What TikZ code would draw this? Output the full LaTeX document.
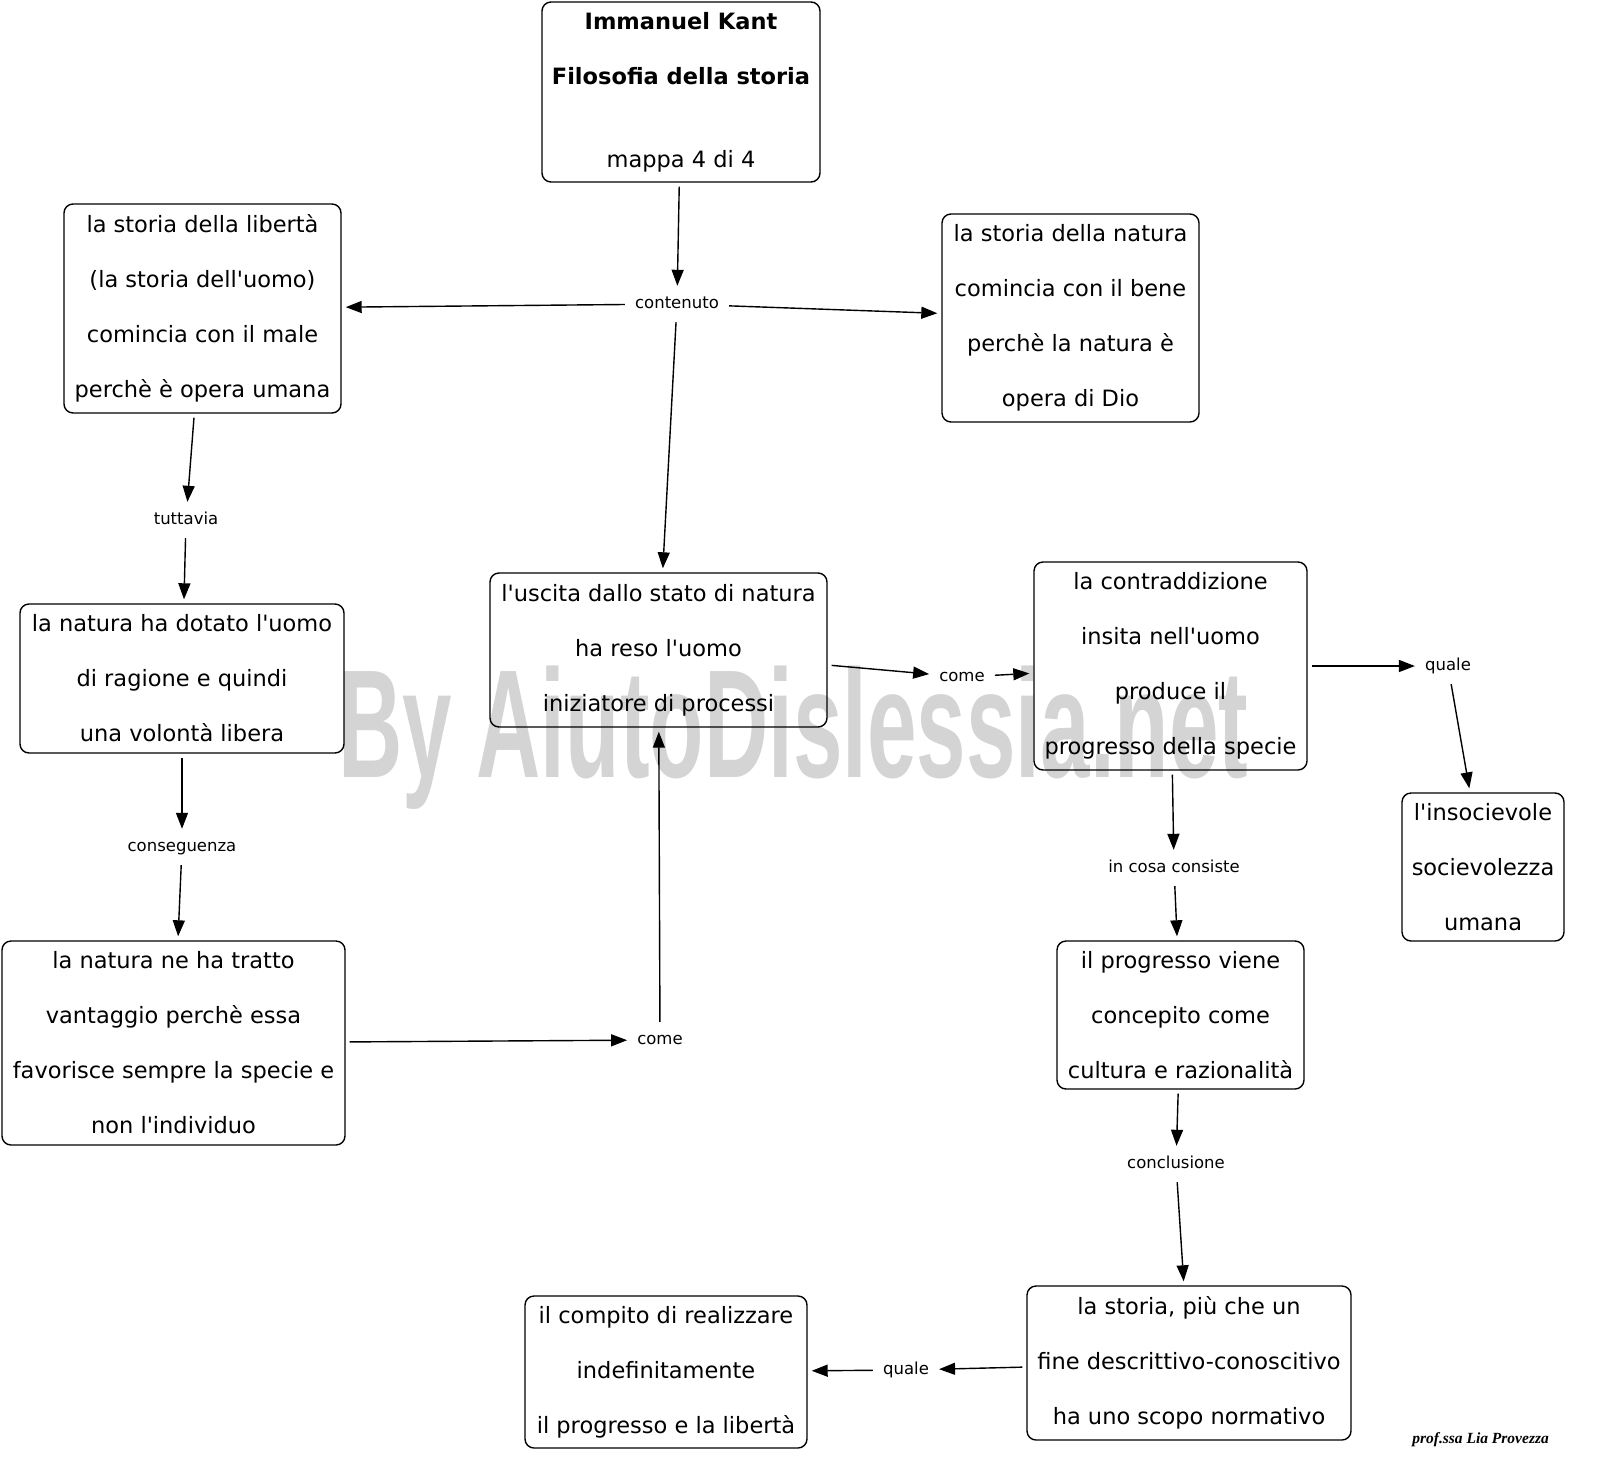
\documentclass[tikz,border=0pt]{standalone}
\usepackage{fontspec}
\setmainfont{DejaVu Sans}[Ligatures=TeXOff]
\newfontfamily\wmfont{Liberation Sans}
\newfontfamily\sigfont{Liberation Serif}
\usetikzlibrary{arrows.meta}
\definecolor{wmgray}{HTML}{D4D4D4}
\tikzset{
  box/.style={draw, line width=1.4pt, rounded corners=9pt, align=center,
    font=\fontsize{22.5}{55}\selectfont, inner sep=0pt},
  lbl/.style={font=\fontsize{16.5}{20}\selectfont, inner sep=6pt,
    text height=12pt, text depth=4pt},
  conn/.style={line width=1.4pt, -{Triangle[length=16pt,width=12pt]},
    shorten >=4pt, shorten <=4pt},
}
\begin{document}
\begin{tikzpicture}[x=1pt,y=-1pt]
\useasboundingbox (0,0) rectangle (1600,1483);
% watermark
\node[anchor=base west, text=wmgray, inner sep=0pt,
  font=\wmfont\bfseries\fontsize{154}{154}\selectfont] (wm) at (338,777)
  {\scalebox{0.578}[1]{By AiutoDislessia.net}};
% boxes
\node[box, minimum width=278pt, minimum height=180pt] (title) at (681,92)
  {{\bfseries Immanuel Kant}\\{\bfseries Filosofia della storia}\\[28pt]mappa 4 di 4};
\node[box, minimum width=277pt, minimum height=209pt] (lt) at (202.5,308.5)
  {la storia della libertà\\(la storia dell'uomo)\\comincia con il male\\perchè è opera umana};
\node[box, minimum width=257pt, minimum height=208pt] (rt) at (1070.5,318)
  {la storia della natura\\comincia con il bene\\perchè la natura è\\opera di Dio};
\node[box, minimum width=337pt, minimum height=154pt] (mid) at (658.5,650)
  {l'uscita dallo stato di natura\\ha reso l'uomo\\iniziatore di processi};
\node[box, minimum width=324pt, minimum height=149pt] (lm) at (182,678.5)
  {la natura ha dotato l'uomo\\di ragione e quindi\\una volontà libera};
\node[box, minimum width=343pt, minimum height=204pt] (lb) at (173.5,1043)
  {la natura ne ha tratto\\vantaggio perchè essa\\favorisce sempre la specie e\\non l'individuo};
\node[box, minimum width=273pt, minimum height=208pt] (rm) at (1170.5,666)
  {la contraddizione\\insita nell'uomo\\produce il\\progresso della specie};
\node[box, minimum width=162pt, minimum height=148pt] (fr) at (1483,867)
  {l'insocievole\\socievolezza\\umana};
\node[box, minimum width=247pt, minimum height=148pt] (rl) at (1180.5,1015)
  {il progresso viene\\concepito come\\cultura e razionalità};
\node[box, minimum width=324pt, minimum height=154pt] (br) at (1189,1363)
  {la storia, più che un\\fine descrittivo-conoscitivo\\ha uno scopo normativo};
\node[box, minimum width=282pt, minimum height=152pt] (bm) at (666,1372)
  {il compito di realizzare\\indefinitamente\\il progresso e la libertà};
% labels
\node[lbl] (contenuto) at (677,304) {contenuto};
\node[lbl] (tuttavia) at (186,520) {tuttavia};
\node[lbl] (conseguenza) at (182,847) {conseguenza};
\node[lbl] (come1) at (660,1040) {come};
\node[lbl] (come2) at (962,677) {come};
\node[lbl] (quale1) at (1448,666) {quale};
\node[lbl] (incosa) at (1174,868) {in cosa consiste};
\node[lbl] (conclusione) at (1176,1164) {conclusione};
\node[lbl] (quale2) at (906,1370) {quale};
% signature
\node[anchor=base east, inner sep=0pt,
  font=\sigfont\itshape\bfseries\fontsize{15.5}{15.5}\selectfont] (sig) at (1549,1443)
  {prof.ssa Lia Provezza};
% connectors
\draw[conn] (title) -- (contenuto);
\draw[conn] (contenuto) -- (lt);
\draw[conn] (contenuto) -- (rt);
\draw[conn] (contenuto) -- (mid);
\draw[conn] (lt) -- (tuttavia);
\draw[conn] (tuttavia) -- (lm);
\draw[conn] (lm) -- (conseguenza);
\draw[conn] (conseguenza) -- (lb);
\draw[conn] (lb) -- (come1);
\draw[conn] (come1) -- (mid);
\draw[conn] (mid) -- (come2);
\draw[conn] (come2) -- (rm);
\draw[conn] (rm) -- (quale1);
\draw[conn] (quale1) -- (fr);
\draw[conn] (rm) -- (incosa);
\draw[conn] (incosa) -- (rl);
\draw[conn] (rl) -- (conclusione);
\draw[conn] (conclusione) -- (br);
\draw[conn] (br) -- (quale2);
\draw[conn] (quale2) -- (bm);
\end{tikzpicture}
\end{document}
